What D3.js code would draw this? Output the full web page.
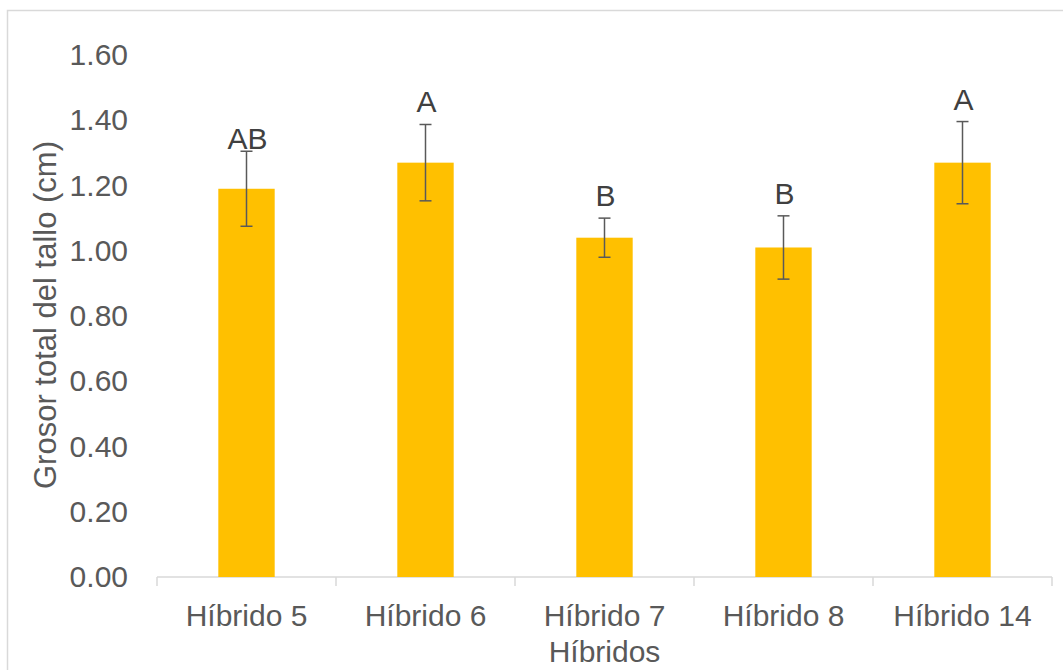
<!DOCTYPE html>
<html>
<head>
<meta charset="utf-8">
<script src="https://cdn.jsdelivr.net/npm/d3@7"></script>
<style>
  body { margin: 0; background: #fff; }
  text { font-family: "Liberation Sans", Arial, sans-serif; }
</style>
</head>
<body>
<div id="chart"></div>
<script>
// data
var hibridos = ["Híbrido 5", "Híbrido 6", "Híbrido 7", "Híbrido 8", "Híbrido 14"];
var grosor = [1.19, 1.27, 1.04, 1.01, 1.27];
var errores = [0.115, 0.117, 0.06, 0.097, 0.126];
var letras = ["AB", "A", "B", "B", "A"];
var yTicks = [0, 0.2, 0.4, 0.6, 0.8, 1.0, 1.2, 1.4, 1.6];

var width = 1063,
    height = 670;
var margin = { top: 55, right: 11, bottom: 93, left: 157 };

var svg = d3.select("#chart")
    .append("svg")
    .attr("width", width)
    .attr("height", height);

// chart area border
svg.append("rect")
    .attr("x", 7.5)
    .attr("y", 10.5)
    .attr("width", width + 20)
    .attr("height", height + 20)
    .attr("fill", "none")
    .attr("stroke", "#d9d9d9")
    .attr("stroke-width", 1.5);

var x = d3.scaleBand()
    .domain(hibridos)
    .range([margin.left, width - margin.right])
    .paddingInner(0.685)
    .paddingOuter(0.3425);

var band = d3.scaleBand()
    .domain(hibridos)
    .range([margin.left, width - margin.right]);

var y = d3.scaleLinear()
    .domain([0, 1.6])
    .range([height - margin.bottom, margin.top]);

// y axis (labels only)
var yAxis = svg.append("g")
    .attr("transform", "translate(" + 128 + ",0)")
    .call(d3.axisLeft(y).tickValues(yTicks).tickFormat(d3.format(".2f")).tickSize(0).tickPadding(0));
yAxis.select(".domain").remove();
yAxis.selectAll("text")
    .style("font-family", "'Liberation Sans', Arial, sans-serif")
    .style("font-size", "30px")
    .attr("fill", "#595959");

// x axis with category separators
var xAxisG = svg.append("g")
    .attr("transform", "translate(0," + (height - margin.bottom) + ")");
xAxisG.append("line")
    .attr("x1", margin.left).attr("x2", width - margin.right)
    .attr("y1", 0).attr("y2", 0)
    .attr("stroke", "#d9d9d9").attr("stroke-width", 1.5);
xAxisG.selectAll(".sep")
    .data(hibridos.concat(["end"]))
    .enter().append("line")
    .attr("x1", (d, i) => i < hibridos.length ? band(d) : width - margin.right)
    .attr("x2", (d, i) => i < hibridos.length ? band(d) : width - margin.right)
    .attr("y1", 0).attr("y2", 9)
    .attr("stroke", "#d9d9d9").attr("stroke-width", 1.5);
xAxisG.selectAll(".cat")
    .data(hibridos)
    .enter().append("text")
    .attr("x", d => band(d) + band.bandwidth() / 2)
    .attr("y", 49)
    .attr("text-anchor", "middle")
    .style("font-size", "30px")
    .attr("fill", "#595959")
    .text(d => d);

// bars
svg.selectAll(".bar")
    .data(grosor)
    .enter().append("rect")
    .attr("x", (d, i) => x(hibridos[i]))
    .attr("y", d => y(d))
    .attr("width", x.bandwidth())
    .attr("height", d => y(0) - y(d))
    .attr("fill", "#ffc000");

// error bars
var eb = svg.selectAll(".err")
    .data(grosor)
    .enter().append("g")
    .attr("stroke", "#595959")
    .attr("stroke-width", 1.5);
eb.append("line")
    .attr("x1", (d, i) => band(hibridos[i]) + band.bandwidth() / 2)
    .attr("x2", (d, i) => band(hibridos[i]) + band.bandwidth() / 2)
    .attr("y1", (d, i) => y(d - errores[i]))
    .attr("y2", (d, i) => y(d + errores[i]));
[-1, 1].forEach(function (s) {
    eb.append("line")
        .attr("x1", (d, i) => band(hibridos[i]) + band.bandwidth() / 2 - 6)
        .attr("x2", (d, i) => band(hibridos[i]) + band.bandwidth() / 2 + 6)
        .attr("y1", (d, i) => y(d + s * errores[i]))
        .attr("y2", (d, i) => y(d + s * errores[i]));
});

// significance letters
svg.selectAll(".letra")
    .data(letras)
    .enter().append("text")
    .attr("x", (d, i) => band(hibridos[i]) + band.bandwidth() / 2 + 1)
    .attr("y", (d, i) => y(grosor[i] + errores[i]) - (i === 0 ? 2 : 12))
    .attr("text-anchor", "middle")
    .style("font-size", "30px")
    .attr("fill", "#404040")
    .text(d => d);

// axis titles
svg.append("text")
    .attr("transform", "translate(56," + 315 + ") rotate(-90)")
    .attr("text-anchor", "middle")
    .style("font-size", "31px")
    .attr("fill", "#595959")
    .text("Grosor total del tallo (cm)");

svg.append("text")
    .attr("x", (margin.left + width - margin.right) / 2)
    .attr("y", 662)
    .attr("text-anchor", "middle")
    .style("font-size", "30px")
    .attr("fill", "#595959")
    .text("Híbridos");
</script>
</body>
</html>
